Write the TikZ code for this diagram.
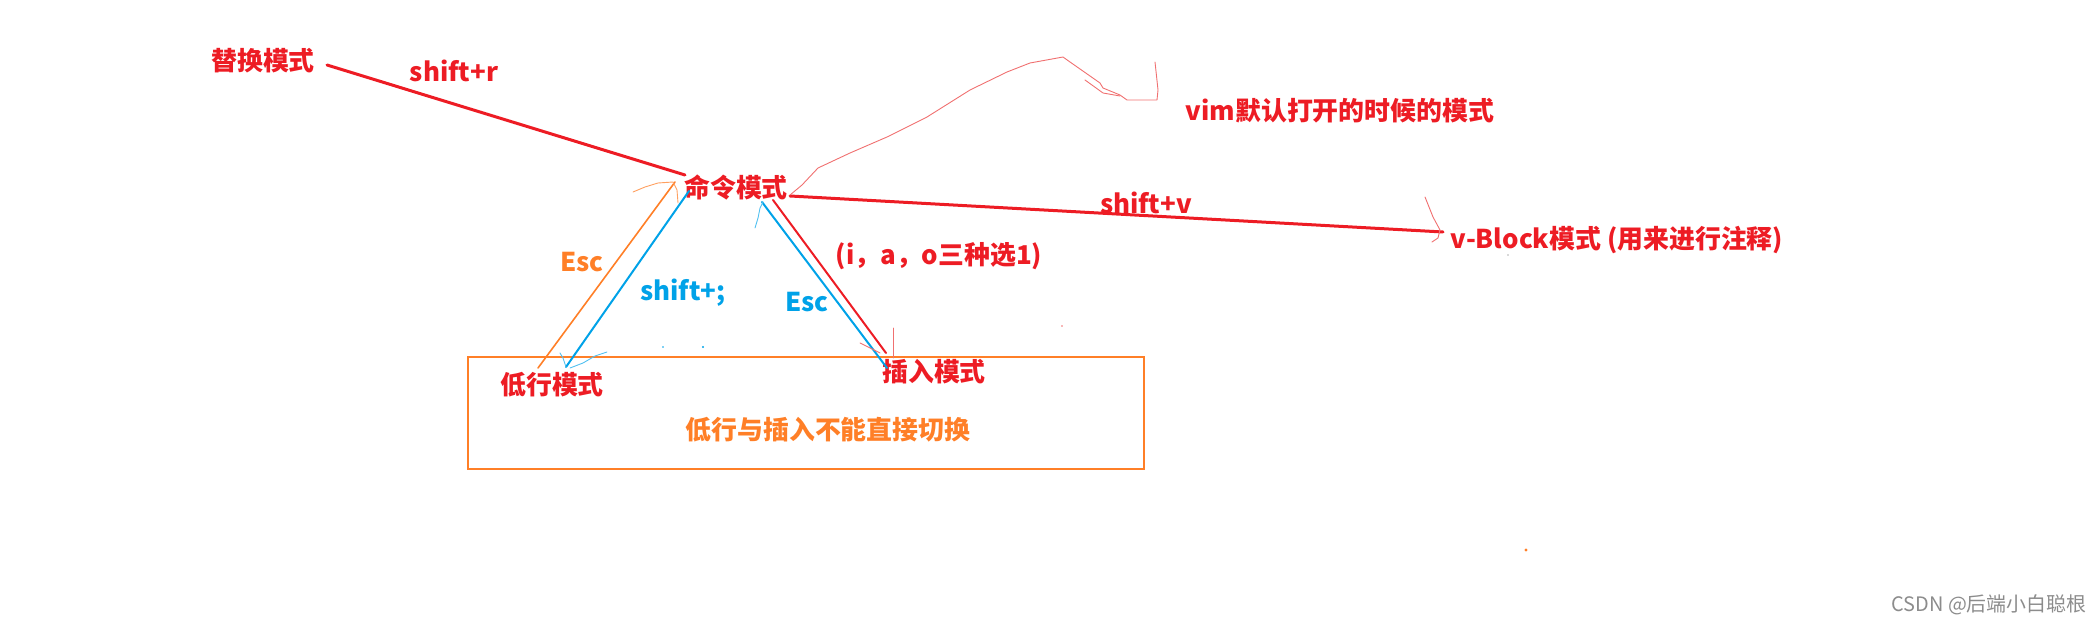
\documentclass[tikz,border=0pt]{standalone}
\usepackage{fontspec}
\setmainfont{Noto Sans CJK SC}
\definecolor{pred}{HTML}{ED1C24}
\definecolor{porange}{HTML}{FF7F27}
\definecolor{pblue}{HTML}{00A2E8}
\definecolor{psketch}{HTML}{F07070}
\definecolor{porlight}{HTML}{FFA060}
\definecolor{pbluelight}{HTML}{50C0F0}
\tikzset{
  lbl/.style={inner sep=0pt, font=\fontsize{13}{15}\selectfont\bfseries},
  redlbl/.style={lbl, text=pred},
  orlbl/.style={lbl, text=porange},
  bluelbl/.style={lbl, text=pblue},
  thickred/.style={draw=pred, line width=1.5bp, line cap=round},
  redline/.style={draw=pred, line width=1bp, line cap=round},
  blueline/.style={draw=pblue, line width=1bp, line cap=round},
  orline/.style={draw=porange, line width=0.8bp, line cap=round},
  sketch/.style={line width=0.45bp, line cap=round, line join=round},
}
\begin{document}
\begin{tikzpicture}[x=0.5bp,y=-0.5bp]
\useasboundingbox (0,0) rectangle (2100,624);
% nodes
\node[redlbl] (tihuan) at (263,61) {替换模式};
\node[redlbl] (shiftr) at (454,71) {shift+r};
\node[redlbl] (cmd) at (736,188) {命令模式};
\node[redlbl] (vimdef) at (1340,111) {vim默认打开的时候的模式};
\node[redlbl] (shiftv) at (1146,203) {shift+v};
\node[redlbl] (vblock) at (1617,240) {v-Block模式 (用来进行注释)};
\node[orlbl] (escO) at (582,262) {Esc};
\node[bluelbl] (shiftsemi) at (683,293) {shift+;};
\node[bluelbl] (escB) at (807,302) {Esc};
\node[redlbl] (iao) at (939,256) {(i，a，o三种选1)};
\node[redlbl] (dihang) at (552,385) {低行模式};
\node[redlbl] (charu) at (934,372) {插入模式};
\node[draw=porange, line width=1bp, minimum width=676*0.5bp, minimum height=112*0.5bp, inner sep=0pt] (box) at (806,413) {};
\node[orlbl] (note) at (828,430) {低行与插入不能直接切换};
\node[inner sep=0pt, text=black!45, font=\fontsize{10}{12}\selectfont] (csdn) at (1989,605) {CSDN @后端小白聪根};
% connector end points
\coordinate (tE) at (327,65);
\coordinate (cNW) at (685,175);
\coordinate (cE) at (790,196);
\coordinate (vW) at (1443,232);
\coordinate (cSr) at (773,200);
\coordinate (iN) at (886,353);
\coordinate (cSb) at (762,202);
\coordinate (iNb) at (887,368);
\coordinate (cWb) at (689,191);
\coordinate (dNb) at (566,367);
\coordinate (cWo) at (675,182);
\coordinate (dNo) at (538,368);
% main connectors
\draw[thickred] (tE) -- (cNW);
\draw[thickred] (cE) -- (vW);
\draw[redline] (cSr) -- (iN);
\draw[blueline] (cSb) -- (iNb);
\draw[blueline] (cWb) -- (dNb);
\draw[orline] (cWo) -- (dNo);
% sketch strokes
\draw[sketch, draw=porlight] (633,192) -- (645,187) -- (658,183) -- (673,182) -- (677,190) -- (678,203);
\draw[sketch, draw=pbluelight] (763,202) -- (760,208) -- (758,218) -- (755,228);
\draw[sketch, draw=pbluelight] (560,353) -- (563,358) -- (566,367);
\draw[sketch, draw=pbluelight] (570,368) -- (583,363) -- (595,356) -- (607,352);
\draw[sketch, draw=psketch] (893,328) -- (893,358);
\draw[sketch, draw=psketch] (860,343) -- (880,353);
\draw[sketch, draw=psketch] (790,195) -- (802,185) -- (818,168) -- (850,153) -- (887,137) -- (927,117) -- (970,90) -- (1007,72) -- (1030,63) -- (1063,57) -- (1070,62) -- (1100,83) -- (1103,88) -- (1120,95) -- (1127,100) -- (1157,100) -- (1158,90) -- (1155,62);
\draw[sketch, draw=psketch] (1085,80) -- (1103,93) -- (1120,96);
\draw[sketch, draw=psketch] (1425,197) -- (1433,217) -- (1440,230) -- (1438,238) -- (1432,242);
% stray dots
\fill[pblue] (663,347) circle (0.8);
\fill[pblue] (703,347) circle (1.2);
\fill[psketch] (1062,326) circle (0.8);
\fill[black!30] (1508,255) circle (0.8);
\fill[porange] (1526,550) circle (1.6);
\end{tikzpicture}
\end{document}
